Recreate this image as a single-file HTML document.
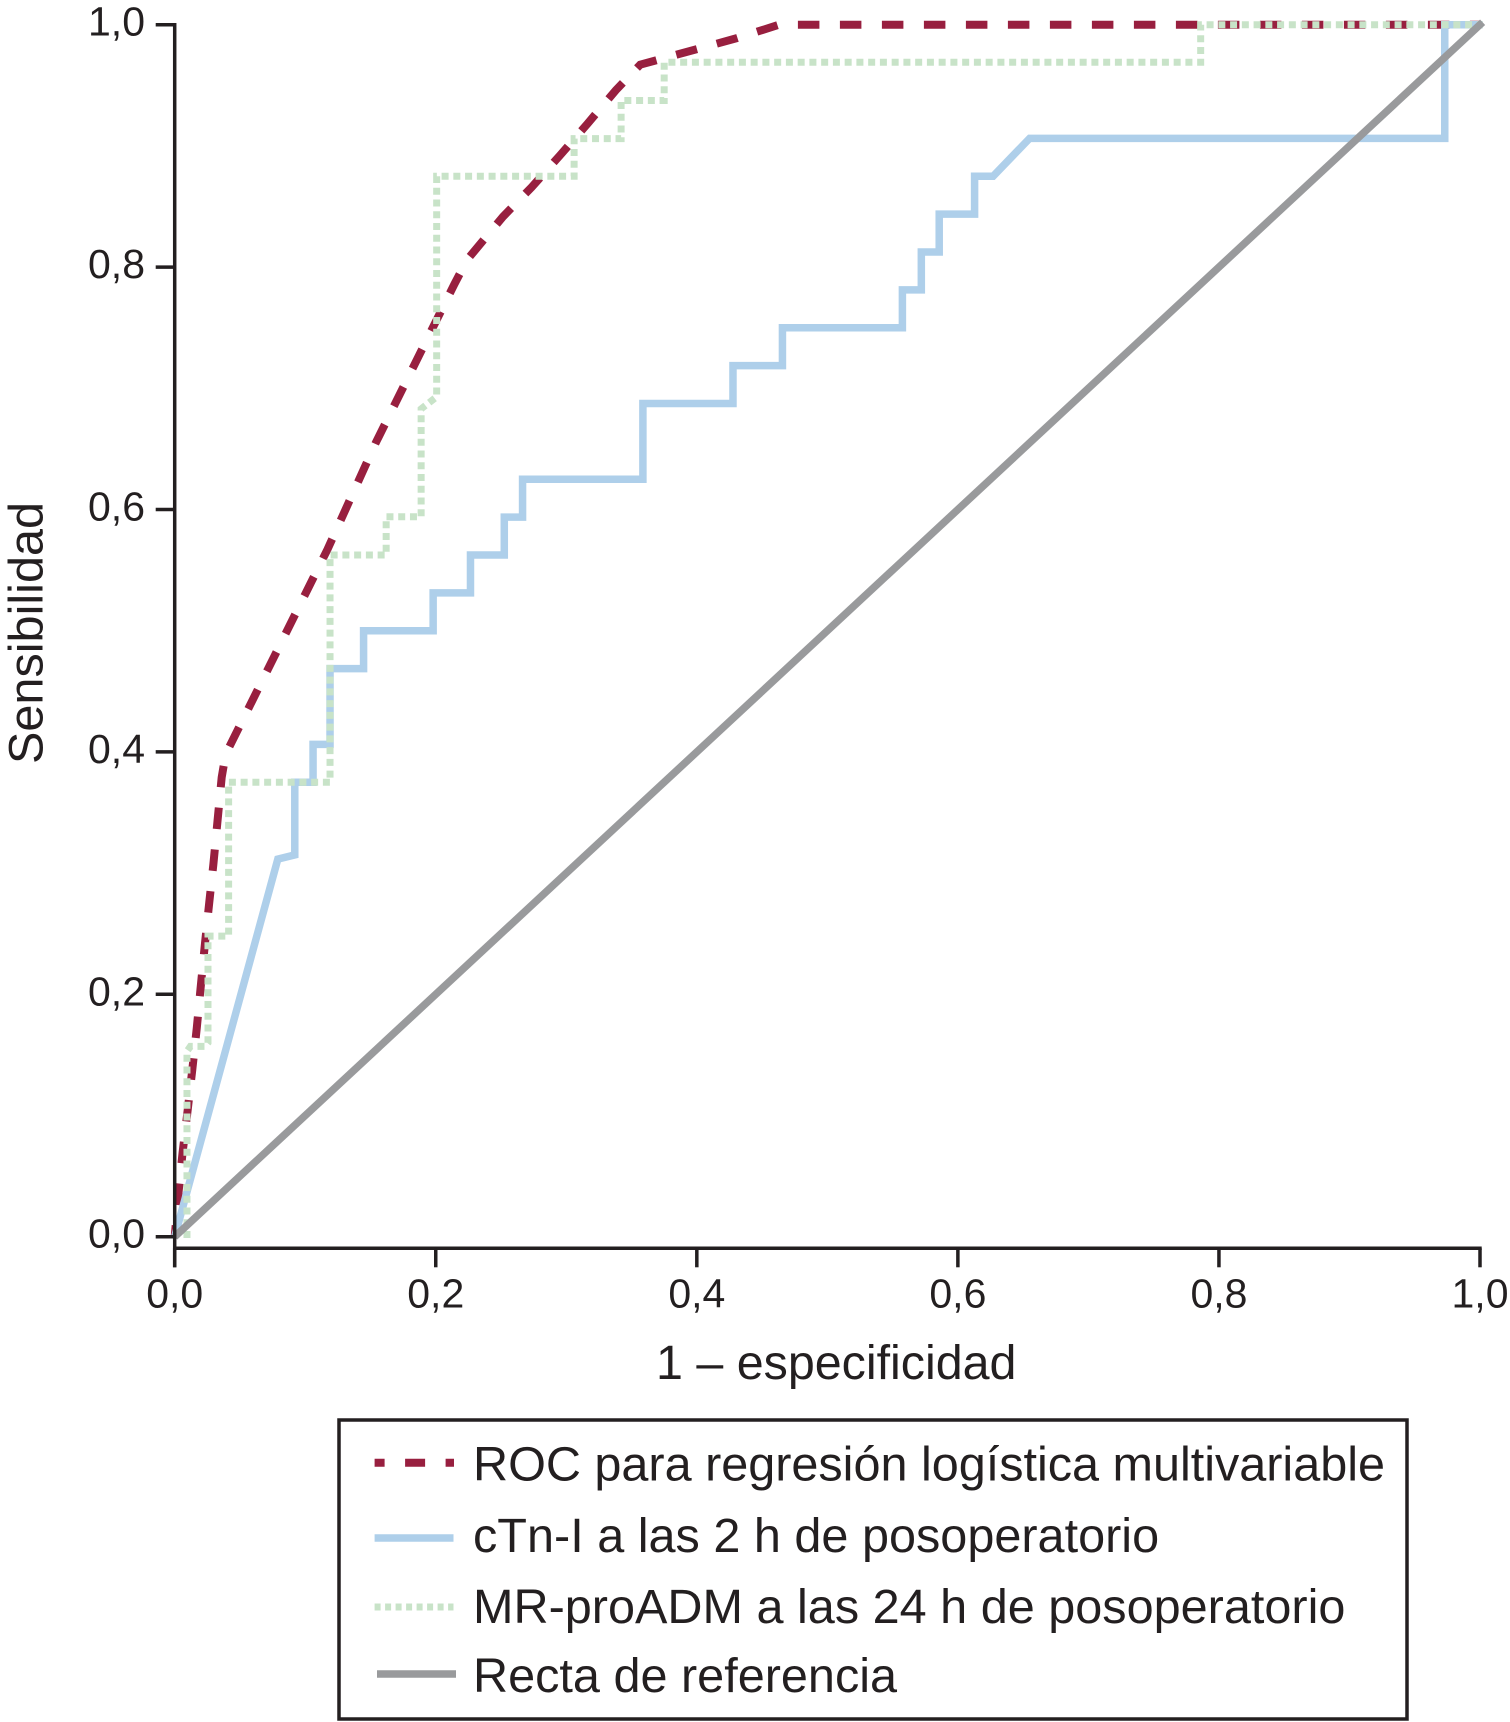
<!DOCTYPE html>
<html lang="es">
<head>
<meta charset="utf-8">
<title>Curvas ROC</title>
<style>
html,body{margin:0;padding:0;background:#fff;width:1510px;height:1722px;overflow:hidden}
svg{display:block;font-family:"Liberation Sans",Arial,sans-serif;fill:#231f20}
</style>
</head>
<body>
<svg id="chart" xmlns="http://www.w3.org/2000/svg" width="1510" height="1722" viewBox="0 0 1510 1722">
  <rect x="0" y="0" width="1510" height="1722" fill="#fff"/>
  <g id="series"></g>
  <g id="axes"></g>
  <text transform="translate(42.5 764) rotate(-90)" font-size="48.6">Sensibilidad</text>
  <text x="656" y="1379" font-size="48.4">1 – especificidad</text>
  <g>
    <rect x="339" y="1420" width="1068" height="299" fill="#fff" stroke="#231f20" stroke-width="3.5"/>
    <g>
      <line x1="374.6" y1="1462.7" x2="454" y2="1462.7" stroke="#981f3f" stroke-width="8" stroke-dasharray="10 20.5 20 20.5 10"/>
      <text x="473" y="1480.7" font-size="48.6" textLength="912" lengthAdjust="spacing">ROC para regresión logística multivariable</text>
    </g>
    <g>
      <line x1="374.6" y1="1538" x2="453.5" y2="1538" stroke="#aecfea" stroke-width="7.5"/>
      <text x="473" y="1552" font-size="48.6">cTn-I a las 2 h de posoperatorio</text>
    </g>
    <g>
      <line x1="374.6" y1="1607" x2="453.5" y2="1607" stroke="#c8e3c8" stroke-width="7" stroke-dasharray="6 4.5"/>
      <text x="473" y="1623" font-size="48.6">MR-proADM a las 24 h de posoperatorio</text>
    </g>
    <g>
      <line x1="377" y1="1674" x2="456" y2="1674" stroke="#999a9c" stroke-width="7.5"/>
      <text x="473" y="1692" font-size="48.6">Recta de referencia</text>
    </g>
  </g>
</svg>
<script>
// Tick values and printed labels
const xTicks = [0, 0.2, 0.4, 0.6, 0.8, 1];
const yTicks = [0, 0.2, 0.4, 0.6, 0.8, 1];
const xTickLabels = ['0,0', '0,2', '0,4', '0,6', '0,8', '1,0'];
const yTickLabels = ['0,0', '0,2', '0,4', '0,6', '0,8', '1,0'];

// ROC para regresión logística multivariable
const rocX = [0, 0.0028, 0.006, 0.01, 0.0135, 0.0169, 0.02, 0.0232, 0.0265, 0.0296, 0.036, 0.039, 0.117, 0.154, 0.2, 0.2143, 0.224, 0.2515, 0.2735, 0.295, 0.316, 0.338, 0.3566, 0.431, 0.463, 1];
const rocY = [0, 0.035, 0.069, 0.105, 0.138, 0.172, 0.207, 0.242, 0.276, 0.307, 0.379, 0.398, 0.567, 0.655, 0.755, 0.786, 0.806, 0.8416, 0.866, 0.892, 0.918, 0.946, 0.967, 0.989, 1, 1];
const rocFlatStart = 24;

// cTn-I a las 2 h de posoperatorio
const ctniX = [0, 0.079, 0.092, 0.092, 0.106, 0.106, 0.119, 0.119, 0.1447, 0.1447, 0.198, 0.198, 0.2266, 0.2266, 0.2525, 0.2525, 0.2665, 0.2665, 0.3587, 0.3587, 0.4277, 0.4277, 0.4656, 0.4656, 0.5575, 0.5575, 0.572, 0.572, 0.5857, 0.5857, 0.6128, 0.6128, 0.627, 0.655, 0.973, 0.973, 1.002];
const ctniY = [0, 0.3115, 0.315, 0.375, 0.375, 0.40625, 0.40625, 0.46875, 0.46875, 0.5, 0.5, 0.53125, 0.53125, 0.5625, 0.5625, 0.59375, 0.59375, 0.625, 0.625, 0.6875, 0.6875, 0.71875, 0.71875, 0.75, 0.75, 0.78125, 0.78125, 0.8125, 0.8125, 0.84375, 0.84375, 0.875, 0.875, 0.90625, 0.90625, 1, 1];

// MR-proADM a las 24 h de posoperatorio
const mrX = [0.0094, 0.0094, 0.012, 0.0233, 0.0255, 0.0255, 0.0413, 0.0413, 0.119, 0.119, 0.162, 0.162, 0.1888, 0.1888, 0.2007, 0.2007, 0.306, 0.306, 0.342, 0.342, 0.375, 0.375, 0.786, 0.786, 1.002];
const mrY = [-0.004, 0.153, 0.157, 0.157, 0.16, 0.248, 0.248, 0.375, 0.375, 0.5625, 0.5625, 0.594, 0.594, 0.683, 0.693, 0.875, 0.875, 0.906, 0.906, 0.9375, 0.9375, 0.969, 0.969, 1, 1];
const mrLastCorner = 22;

// Recta de referencia
const refX = [0, 1.002];
const refY = [0, 1.002];

const NS = 'http://www.w3.org/2000/svg';
const plotLeft = 174.7, plotRight = 1480, plotBottom = 1236.7, plotTop = 24.7, axisY = 1248.3;
function sx(v) { return plotLeft + v * (plotRight - plotLeft); }
function sy(v) { return plotBottom - v * (plotBottom - plotTop); }
function pathFrom(xs, ys) {
  return xs.map(function (x, i) { return (i ? 'L' : 'M') + sx(x).toFixed(2) + ' ' + sy(ys[i]).toFixed(2); }).join(' ');
}
function lengthTo(xs, ys, idx) {
  let total = 0;
  for (let i = 1; i <= idx; i++) {
    total += Math.hypot(sx(xs[i]) - sx(xs[i - 1]), sy(ys[i]) - sy(ys[i - 1]));
  }
  return total;
}
const seriesLayer = document.getElementById('series');
const axesLayer = document.getElementById('axes');

const rocLine = document.createElementNS(NS, 'path');


rocLine.setAttribute('d', pathFrom(rocX, rocY));
rocLine.setAttribute('fill', 'none');
rocLine.setAttribute('stroke', '#981f3f');
rocLine.setAttribute('stroke-width', '8');
rocLine.setAttribute('stroke-dasharray', '21.5 20.5');
// keep the dash phase anchored on the flat run at the top of the curve
const rocPhase = lengthTo(rocX, rocY, rocFlatStart) + (797.9 - sx(rocX[rocFlatStart]));
rocLine.setAttribute('stroke-dashoffset', (42 - rocPhase % 42).toFixed(2));
seriesLayer.appendChild(rocLine);

const ctniLine = document.createElementNS(NS, 'path');


ctniLine.setAttribute('d', pathFrom(ctniX, ctniY));
ctniLine.setAttribute('fill', 'none');
ctniLine.setAttribute('stroke', '#aecfea');
ctniLine.setAttribute('stroke-width', '7.5');
seriesLayer.appendChild(ctniLine);

const mrLine = document.createElementNS(NS, 'path');


mrLine.setAttribute('d', pathFrom(mrX, mrY));
mrLine.setAttribute('fill', 'none');
mrLine.setAttribute('stroke', '#c8e3c8');
mrLine.setAttribute('stroke-width', '7');
mrLine.setAttribute('stroke-dasharray', '7 4.75');
// keep the dot phase anchored on the last corner of the curve
const mrPhase = lengthTo(mrX, mrY, mrLastCorner) - 3.5;
mrLine.setAttribute('stroke-dashoffset', (11.75 - mrPhase % 11.75).toFixed(2));
seriesLayer.appendChild(mrLine);

const refLine = document.createElementNS(NS, 'path');


refLine.setAttribute('d', pathFrom(refX, refY));
refLine.setAttribute('fill', 'none');
refLine.setAttribute('stroke', '#999a9c');
refLine.setAttribute('stroke-width', '7.5');
seriesLayer.appendChild(refLine);

const yAxisLine = document.createElementNS(NS, 'line');


yAxisLine.setAttribute('x1', plotLeft);
yAxisLine.setAttribute('x2', plotLeft);
yAxisLine.setAttribute('y1', sy(1) - 1.7);
yAxisLine.setAttribute('y2', axisY + 19);
yAxisLine.setAttribute('stroke', '#231f20');
yAxisLine.setAttribute('stroke-width', '3.5');
axesLayer.appendChild(yAxisLine);

const xAxisLine = document.createElementNS(NS, 'line');


xAxisLine.setAttribute('x1', plotLeft);
xAxisLine.setAttribute('x2', sx(1) + 1.7);
xAxisLine.setAttribute('y1', axisY);
xAxisLine.setAttribute('y2', axisY);
xAxisLine.setAttribute('stroke', '#231f20');
xAxisLine.setAttribute('stroke-width', '3.5');
axesLayer.appendChild(xAxisLine);

xTicks.forEach(function (v, i) {
  const tick = document.createElementNS(NS, 'line');
  
  
  tick.setAttribute('x1', sx(v));
  tick.setAttribute('x2', sx(v));
  tick.setAttribute('y1', axisY);
  tick.setAttribute('y2', axisY + 19);
  tick.setAttribute('stroke', '#231f20');
  tick.setAttribute('stroke-width', '3.5');
  axesLayer.appendChild(tick);
  const label = document.createElementNS(NS, 'text');
  
  
  label.setAttribute('x', sx(v));
  label.setAttribute('y', 1307.7);
  label.setAttribute('text-anchor', 'middle');
  label.setAttribute('font-size', '41');
  label.textContent = xTickLabels[i];
  axesLayer.appendChild(label);
});

yTicks.forEach(function (v, i) {
  const tick = document.createElementNS(NS, 'line');
  
  
  tick.setAttribute('x1', plotLeft - 19);
  tick.setAttribute('x2', plotLeft);
  tick.setAttribute('y1', sy(v));
  tick.setAttribute('y2', sy(v));
  tick.setAttribute('stroke', '#231f20');
  tick.setAttribute('stroke-width', '3.5');
  axesLayer.appendChild(tick);
  const label = document.createElementNS(NS, 'text');
  
  
  label.setAttribute('x', 145);
  label.setAttribute('y', sy(v) + 11);
  label.setAttribute('text-anchor', 'end');
  label.setAttribute('font-size', '41');
  label.textContent = yTickLabels[i];
  axesLayer.appendChild(label);
});
</script>
</body>
</html>
